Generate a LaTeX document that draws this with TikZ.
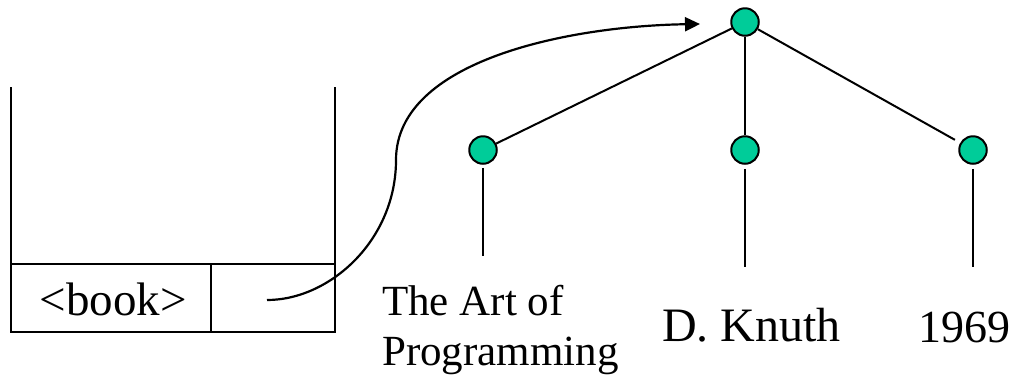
\documentclass[tikz,border=0pt]{standalone}
\usepackage{fontspec}
\setmainfont{Liberation Serif}
\usetikzlibrary{arrows.meta}
\definecolor{nodegreen}{RGB}{0,204,153}
\begin{document}
\begin{tikzpicture}[x=1pt,y=-1pt,
  treenode/.style={circle,draw=black,fill=nodegreen,line width=2pt,minimum size=27.5pt,inner sep=0pt},
  boxline/.style={line width=2.2pt},
  edge/.style={line width=2pt},
  label/.style={inner sep=0pt}]
\useasboundingbox (0,0) rectangle (1014,376);
% stack box
\coordinate (bl) at (11,332);
\coordinate (br) at (335,332);
\coordinate (tl) at (11,87);
\coordinate (tr) at (335,87);
\coordinate (ml) at (11,264);
\coordinate (mr) at (335,264);
\coordinate (dt) at (211,264);
\coordinate (db) at (211,332);
\draw[boxline] (tl) -- (bl) -- (br) -- (tr);
\draw[boxline] (ml) -- (mr);
\draw[boxline] (dt) -- (db);
\node[label,anchor=base,font=\fontsize{47}{50}\selectfont] (book) at (113,315) {<book>};
% tree
\node[treenode] (root) at (745,22) {};
\node[treenode] (c1) at (483,150) {};
\node[treenode] (c2) at (745,150) {};
\node[treenode] (c3) at (973,150) {};
\draw[edge] (root) -- (c1);
\draw[edge] (root) -- (c2);
\draw[edge,shorten >=6pt] (root) -- (c3);
\coordinate (e1) at (483,256);
\coordinate (e2) at (745,267);
\coordinate (e3) at (973,267);
\draw[edge,shorten <=3pt] (c1) -- (e1);
\draw[edge,shorten <=4pt] (c2) -- (e2);
\draw[edge,shorten <=4pt] (c3) -- (e3);
\node[label,anchor=base west,align=left,font=\fontsize{43}{50}\selectfont] (title) at (382,365) {The Art of\\Programming};
\node[label,anchor=base west,font=\fontsize{48}{50}\selectfont] (author) at (662,341) {D. Knuth};
\node[label,anchor=base west,font=\fontsize{46}{50}\selectfont] (year) at (918,342) {1969};
% pointer arrow
\coordinate (ptr) at (267,300);
\coordinate (bend) at (396,160);
\coordinate (tip) at (700,24);
\draw[line width=2.2pt,-{Triangle[length=15pt,width=14pt]}]
  (ptr) .. controls (330,300) and (396,240) .. (bend)
        .. controls (396,60) and (570,26) .. (tip);
\end{tikzpicture}
\end{document}
